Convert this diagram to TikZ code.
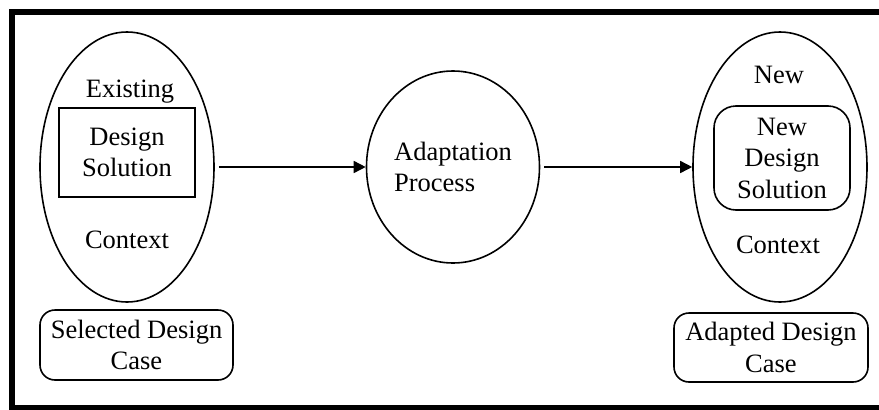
\documentclass[tikz,border=0pt]{standalone}
\usepackage{fontspec}
\setmainfont{Liberation Serif}
\usetikzlibrary{shapes.geometric,arrows.meta}
\tikzset{
  txt/.style={font=\fontsize{26.5}{31.5}\selectfont, inner sep=0pt, align=center},
  oval/.style={draw, ellipse, line width=1.6pt, inner sep=0pt},
  sbox/.style={draw, txt, line width=1.6pt},
  flow/.style={line width=1.6pt, shorten <=4pt, -{Triangle[length=12pt,width=12pt]}}
}
\begin{document}
\begin{tikzpicture}[x=1pt,y=-1pt]
  \useasboundingbox (0,0) rectangle (879,410);
  \draw[line width=6pt] (12,12) rectangle (895,408);
  % existing case
  \node[oval, minimum width=174pt, minimum height=270pt] (oldcase) at (127,167) {};
  \node[txt, anchor=base] (oldtop) at (130,97) {Existing};
  \node[sbox, minimum width=136pt, minimum height=89pt] (oldsol) at (127,152.5) {Design\\Solution};
  \node[txt, anchor=base] (oldbot) at (127,248) {Context};
  \node[sbox, rounded corners=15pt, minimum width=193pt, minimum height=70pt] (selected) at (136.5,345) {Selected Design\\Case};
  % adaptation
  \node[oval, txt, align=left, minimum width=173pt, minimum height=192pt] (adapt) at (453,167) {Adaptation\\Process};
  % new case
  \node[oval, minimum width=174pt, minimum height=270pt] (newcase) at (780,167) {};
  \node[txt, anchor=base] (newtop) at (779,83) {New};
  \node[sbox, rounded corners=22pt, minimum width=136pt, minimum height=104pt] (newsol) at (782,158) {New\\Design\\Solution};
  \node[txt, anchor=base] (newbot) at (778,253) {Context};
  \node[sbox, rounded corners=15pt, minimum width=194pt, minimum height=69pt] (adapted) at (771,347.5) {Adapted Design\\Case};
  \draw[flow] (oldcase.east) -- (adapt.west);
  \draw[flow] (adapt.east) -- (newcase.west);
\end{tikzpicture}
\end{document}
